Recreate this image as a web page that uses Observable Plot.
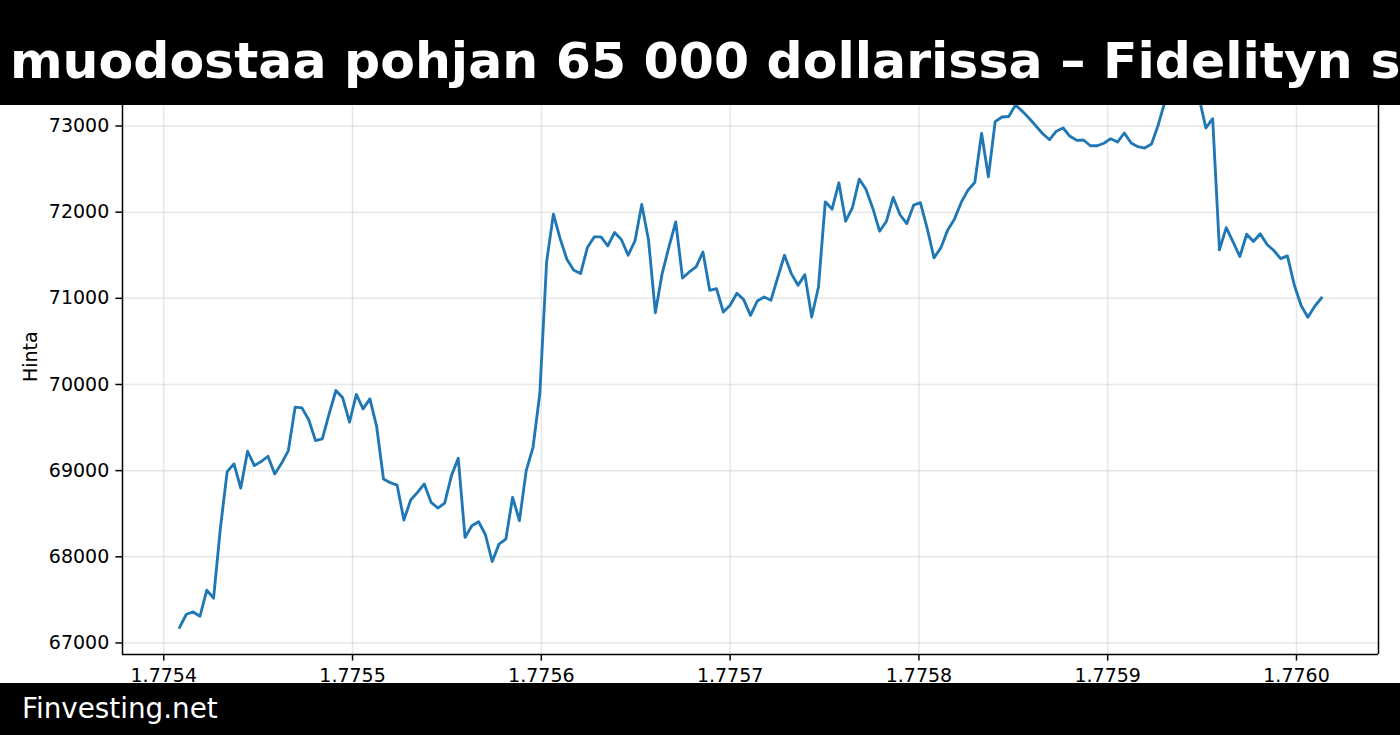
<!DOCTYPE html>
<html>
<head>
<meta charset="utf-8">
<script src="https://cdn.jsdelivr.net/npm/d3@7"></script>
<script src="https://cdn.jsdelivr.net/npm/@observablehq/plot@0.6"></script>
<style>
  html, body { margin: 0; padding: 0; background: #fff; }
  body { width: 1400px; height: 735px; overflow: hidden; font-family: "DejaVu Sans", sans-serif; }
  #title { height: 105px; background: #000; color: #fff; font-weight: bold; font-size: 50.5px;
           white-space: nowrap; overflow: hidden; position: relative; }
  #title span { position: absolute; left: 10px; top: 36px; line-height: 1; }
  #chart { height: 578px; overflow: hidden; }
  #chart svg { display: block; }
  #footer { height: 52px; background: #000; color: #fff; font-size: 27.8px; position: relative; }
  #footer span { position: absolute; left: 22px; top: 12px; line-height: 1; }
</style>
</head>
<body>
<div id="title"><span>muodostaa pohjan 65 000 dollarissa – Fidelityn s</span></div>
<div id="chart"></div>
<div id="footer"><span>Finvesting.net</span></div>
<script>
// Hourly series (seconds since epoch), first sample and step
const startTime = 1775408400;
const stepSeconds = 3600;

// Price values ("Hinta")
const prices = [
  67180, 67333, 67360, 67310, 67613, 67520, 68330, 68988, 69078, 68798,
  69225, 69058, 69105, 69167, 68961, 69085, 69233, 69737, 69729, 69590,
  69349, 69368, 69659, 69930, 69845, 69562, 69884, 69717, 69833, 69510,
  68903, 68860, 68833, 68427, 68659, 68748, 68845, 68632, 68566, 68624,
  68942, 69143, 68225, 68360, 68407, 68256, 67945, 68147, 68205, 68690,
  68419, 69000, 69271, 69892, 71422, 71977, 71690, 71450, 71326, 71287,
  71589, 71713, 71713, 71608, 71764, 71683, 71500, 71666, 72089, 71674,
  70833, 71287, 71597, 71887, 71236, 71306, 71364, 71538, 71093, 71113,
  70841, 70919, 71058, 70985, 70802, 70969, 71015, 70977, 71240, 71500,
  71287, 71151, 71275, 70783, 71131, 72120, 72035, 72341, 71895, 72054,
  72384, 72264, 72043, 71779, 71895, 72171, 71970, 71868, 72081, 72110,
  71810, 71470, 71585, 71791, 71919, 72113, 72256, 72345, 72915, 72411,
  73050, 73105, 73110, 73245, 73170, 73090, 73000, 72910, 72841, 72940,
  72977, 72880, 72834, 72838, 72771, 72771, 72800, 72853, 72814, 72919,
  72802, 72760, 72744, 72790, 73015, 73290, 73420, 73490, 73440, 73380,
  73330, 72977, 73085, 71562, 71820, 71655, 71485, 71744, 71659, 71750,
  71625, 71555, 71460, 71492, 71157, 70920, 70780, 70905, 71004
];

// Tick values
const xTicksE9 = [1.7754, 1.7755, 1.7756, 1.7757, 1.7758, 1.7759, 1.7760];
const yTicks = [67000, 68000, 69000, 70000, 71000, 72000, 73000];
const yLabel = "Hinta";

const data = prices.map((v, i) => ({t: startTime + i * stepSeconds, v}));
const xTicks = xTicksE9.map(d => Math.round(d * 1e9));

// matplotlib-like 5% margins on x
const [t0, t1] = d3.extent(data, d => d.t);
const pad = (t1 - t0) * 0.05;
const xDomain = [t0 - pad, t1 + pad];
// visible y window (top of the axes is hidden under the title bar)
const yDomain = [66866, 73238];

const gridStyle = {stroke: "#b0b0b0", strokeOpacity: 0.3, strokeWidth: 1.5};

const chart = Plot.plot({
  width: 1400,
  height: 578,
  marginLeft: 122,
  marginRight: 22,
  marginTop: 0,
  marginBottom: 29,
  x: {domain: xDomain},
  y: {domain: yDomain},
  style: {fontFamily: "DejaVu Sans", fontSize: "19px", color: "#000", background: "#fff"},
  marks: [
    Plot.gridX(xTicks, gridStyle),
    Plot.gridY(yTicks, gridStyle),
    Plot.line(data, {x: "t", y: "v", stroke: "#1f77b4", strokeWidth: 2.85, clip: true, strokeLinejoin: "round", strokeLinecap: "square"}),
    Plot.axisY(yTicks, {tickSize: 6.6, tickPadding: 6.6, strokeWidth: 1.5, fontSize: 19, label: null, tickFormat: d => String(d)}),
    Plot.axisX(xTicks, {tickSize: 6.6, tickPadding: 7, strokeWidth: 1.5, fontSize: 19, label: null, tickFormat: d => (d / 1e9).toFixed(4)}),
    Plot.ruleX(xDomain, {stroke: "#000", strokeWidth: 1.5}),
    Plot.ruleY([yDomain[0]], {stroke: "#000", strokeWidth: 1.5}),
    Plot.text([yLabel], {frameAnchor: "left", rotate: -90, dx: -92, dy: 2, fontSize: 19, fill: "#000"})
  ]
});
document.getElementById("chart").appendChild(chart);
</script>
</body>
</html>
